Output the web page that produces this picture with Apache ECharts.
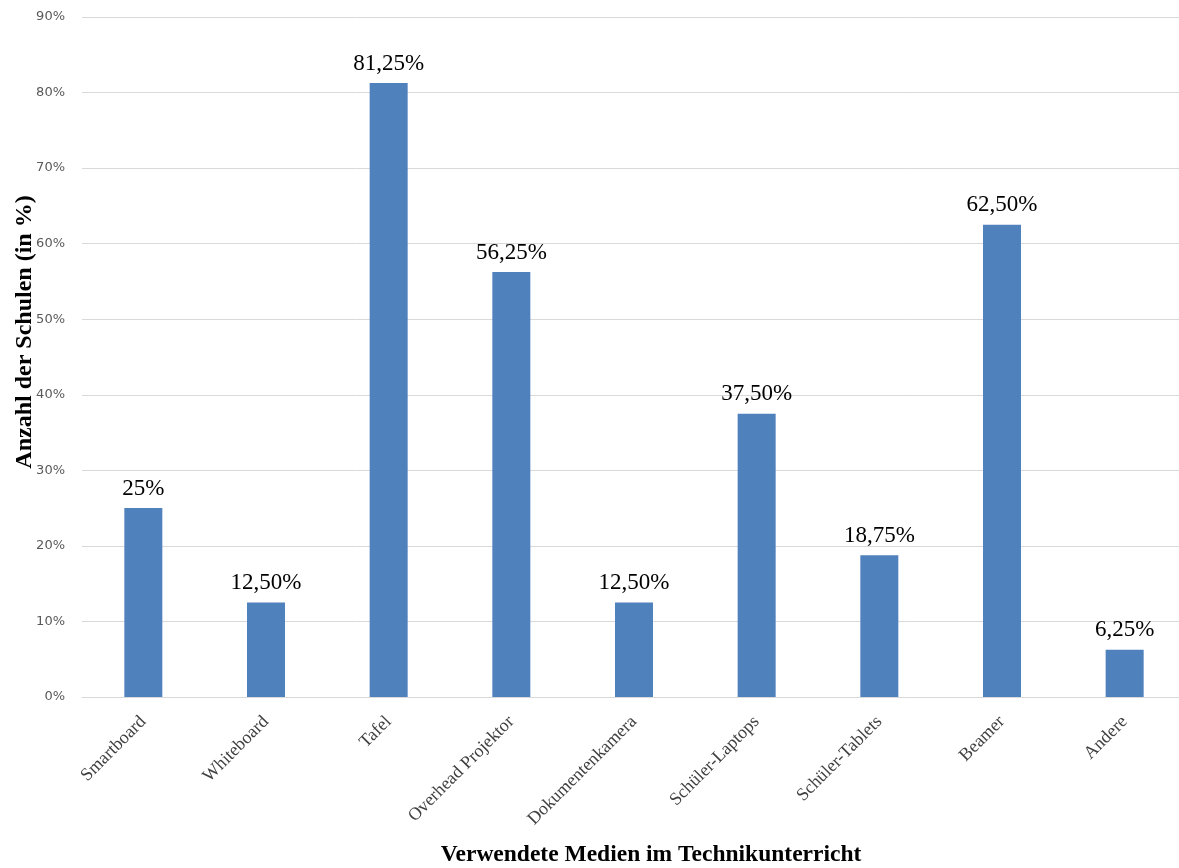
<!DOCTYPE html>
<html>
<head>
<meta charset="utf-8">
<script src="https://cdn.jsdelivr.net/npm/echarts@6/dist/echarts.min.js"></script>
<style>
  html, body { margin: 0; padding: 0; background: #fff; }
  #main { width: 1179px; height: 868px; }
</style>
</head>
<body>
<div id="main"></div>
<script>
var myChart = echarts.init(document.getElementById('main'));

// Daten aus dem Diagramm
var categories = ['Smartboard', 'Whiteboard', 'Tafel', 'Overhead Projektor', 'Dokumentenkamera',
  'Schüler-Laptops', 'Schüler-Tablets', 'Beamer', 'Andere'];
var values = [25, 12.5, 81.25, 56.25, 12.5, 37.5, 18.75, 62.5, 6.25];
var valueLabels = ['25%', '12,50%', '81,25%', '56,25%', '12,50%', '37,50%', '18,75%', '62,50%', '6,25%'];
var yTicks = [0, 10, 20, 30, 40, 50, 60, 70, 80, 90];

var serif = '"Liberation Serif", "DejaVu Serif", serif';

option = {
  backgroundColor: '#ffffff',
  animation: false,
  grid: {
    left: 82,
    right: -7,
    top: 17,
    bottom: 171,
    outerBoundsMode: 'none'
  },
  // Achsentitel
  graphic: [{
    type: 'text',
    x: 25,
    y: 332,
    rotation: Math.PI / 2,
    style: {
      text: 'Anzahl der Schulen (in %)',
      font: 'bold 24px ' + serif,
      fill: '#000',
      align: 'center',
      verticalAlign: 'middle'
    }
  }, {
    type: 'text',
    x: 651,
    y: 855,
    style: {
      text: 'Verwendete Medien im Technikunterricht',
      font: 'bold 23.5px ' + serif,
      fill: '#000',
      align: 'center',
      verticalAlign: 'middle'
    }
  }],
  xAxis: {
    type: 'category',
    data: categories,
    axisLine: { show: true, lineStyle: { color: '#d9d9d9' } },
    axisTick: { show: false },
    axisLabel: {
      rotate: 45,
      interval: 0,
      margin: 22,
      fontFamily: serif,
      fontSize: 18,
      color: '#404040'
    }
  },
  yAxis: {
    type: 'value',
    min: yTicks[0],
    max: yTicks[yTicks.length - 1],
    interval: 10,
    axisLine: { show: false },
    axisTick: { show: false },
    splitLine: { lineStyle: { color: '#d9d9d9', width: 1 } },
    axisLabel: {
      formatter: '{value}%',
      fontFamily: '"DejaVu Sans", sans-serif',
      fontSize: 13,
      color: '#595959',
      margin: 17
    }
  },
  series: [{
    type: 'bar',
    data: values,
    barWidth: 38,
    itemStyle: { color: '#4f81bd' },
    label: {
      show: true,
      position: 'top',
      distance: 8,
      fontFamily: serif,
      fontSize: 23,
      color: '#000',
      formatter: function (params) {
        return valueLabels[params.dataIndex];
      }
    }
  }]
};

myChart.setOption(option);
</script>
</body>
</html>
